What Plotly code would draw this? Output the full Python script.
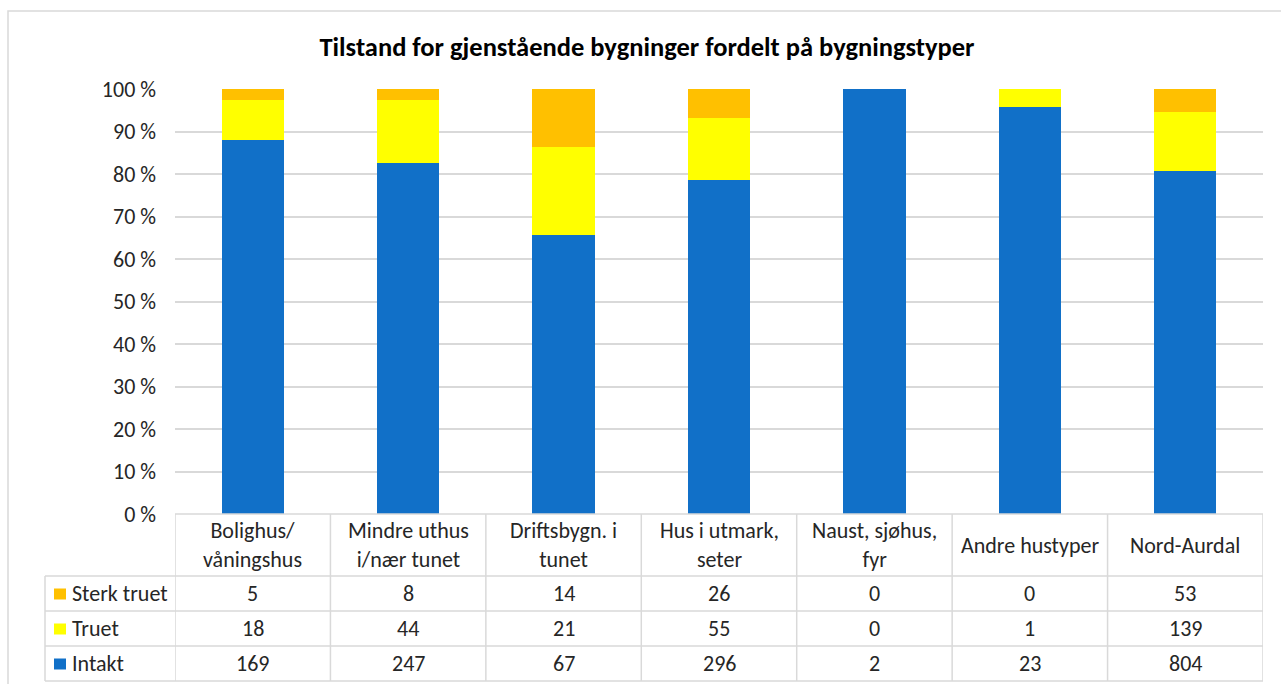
import plotly.graph_objects as go

categories = ["Bolighus/<br>våningshus", "Mindre uthus<br>i/nær tunet", "Driftsbygn. i<br>tunet",
              "Hus i utmark,<br>seter", "Naust, sjøhus,<br>fyr", "Andre hustyper", "Nord-Aurdal"]
intakt = [169, 247, 67, 296, 2, 23, 804]
truet = [18, 44, 21, 55, 0, 1, 139]
sterk_truet = [5, 8, 14, 26, 0, 0, 53]
series = [("Intakt", intakt, "#1170C8"), ("Truet", truet, "#FFFF00"), ("Sterk truet", sterk_truet, "#FFC000")]
table_rows = [("Sterk truet", sterk_truet, "#FFC000"), ("Truet", truet, "#FFFF00"), ("Intakt", intakt, "#1170C8")]

W, H = 1281, 684
FONT = "Carlito, Calibri, Lato, sans-serif"
TXT = "#262626"
GRID = "#D9D9D9"
FS = 22

def px(x):
    return x / W

def py(y):
    return 1 - y / H

xs = list(range(len(categories)))

fig = go.Figure()
for name, vals, col in series:
    fig.add_trace(go.Bar(x=xs, y=vals, name=name, marker=dict(color=col, line=dict(width=0)),
                         width=0.4, showlegend=False, hoverinfo="skip"))

shapes = []
annotations = []

# outer chart border
shapes.append(dict(type="rect", xref="paper", yref="paper", x0=px(8), x1=px(1290), y0=py(11), y1=py(700),
                   line=dict(color=GRID, width=1.5)))

# table geometry (pixels)
y_top, y_head, y_r1, y_r2, y_bot = 514, 576, 611, 646, 681
x_leg = 45
n = len(categories)

shapes.append(dict(type="line", xref="x", yref="paper", x0=-0.5, x1=n - 0.5, y0=py(y_top), y1=py(y_top),
                   line=dict(color=GRID, width=1.5)))
for yy in [y_head, y_r1, y_r2, y_bot]:
    shapes.append(dict(type="line", xref="paper", yref="paper", x0=px(x_leg), x1=px(1263), y0=py(yy), y1=py(yy),
                       line=dict(color=GRID, width=1.5)))
for i in range(n + 1):
    shapes.append(dict(type="line", xref="x", yref="paper", x0=i - 0.5, x1=i - 0.5, y0=py(y_top), y1=py(y_bot),
                       line=dict(color=GRID, width=1.5)))
shapes.append(dict(type="line", xref="paper", yref="paper", x0=px(x_leg), x1=px(x_leg), y0=py(y_head), y1=py(y_bot),
                   line=dict(color=GRID, width=1.5)))

for i, c in enumerate(categories):
    annotations.append(dict(x=i, y=py((y_top + y_head) / 2), xref="x", yref="paper", text=c, showarrow=False,
                            xanchor="center", yanchor="middle",
                            font=dict(family=FONT, size=FS, color=TXT), align="center"))

rows_y = [(y_head, y_r1), (y_r1, y_r2), (y_r2, y_bot)]
for (name, vals, col), (ya, yb) in zip(table_rows, rows_y):
    yc = (ya + yb) / 2
    shapes.append(dict(type="rect", xref="paper", yref="paper", x0=px(54), x1=px(66), y0=py(yc - 5), y1=py(yc + 6),
                       fillcolor=col, line=dict(width=0)))
    annotations.append(dict(x=px(70), y=py(yc), xref="paper", yref="paper", text=name, showarrow=False,
                            xanchor="left", yanchor="middle", font=dict(family=FONT, size=FS, color=TXT)))
    for i, v in enumerate(vals):
        annotations.append(dict(x=i, y=py(yc), xref="x", yref="paper", text=str(v), showarrow=False,
                                xanchor="center", yanchor="middle",
                                font=dict(family=FONT, size=FS, color=TXT)))

fig.update_layout(
    width=W, height=H,
    margin=dict(l=0, r=0, t=0, b=0, pad=0, autoexpand=False),
    paper_bgcolor="white", plot_bgcolor="white",
    barmode="stack", barnorm="percent",
    title=dict(text="<b>Tilstand for gjenstående bygninger fordelt på bygningstyper</b>",
               x=px(647), xanchor="center", y=py(47), yanchor="middle",
               font=dict(family=FONT, size=26.5, color="#000000")),
    xaxis=dict(domain=[px(175), px(1263)], range=[-0.5, n - 0.5], showticklabels=False, showgrid=False,
               zeroline=False, showline=False, fixedrange=True, automargin=False),
    yaxis=dict(domain=[py(514), py(89)], range=[0, 100], dtick=10, ticksuffix=" %",
               showgrid=True, gridcolor=GRID, gridwidth=1.5, zeroline=False, showline=False,
               ticks="", ticklabelstandoff=18, automargin=False, fixedrange=True,
               tickfont=dict(family=FONT, size=FS, color=TXT)),
    shapes=shapes,
    annotations=annotations,
)

fig.write_html("out.html", config={"displayModeBar": False},
               post_script="document.body.style.margin='0';document.body.style.overflow='hidden';")
